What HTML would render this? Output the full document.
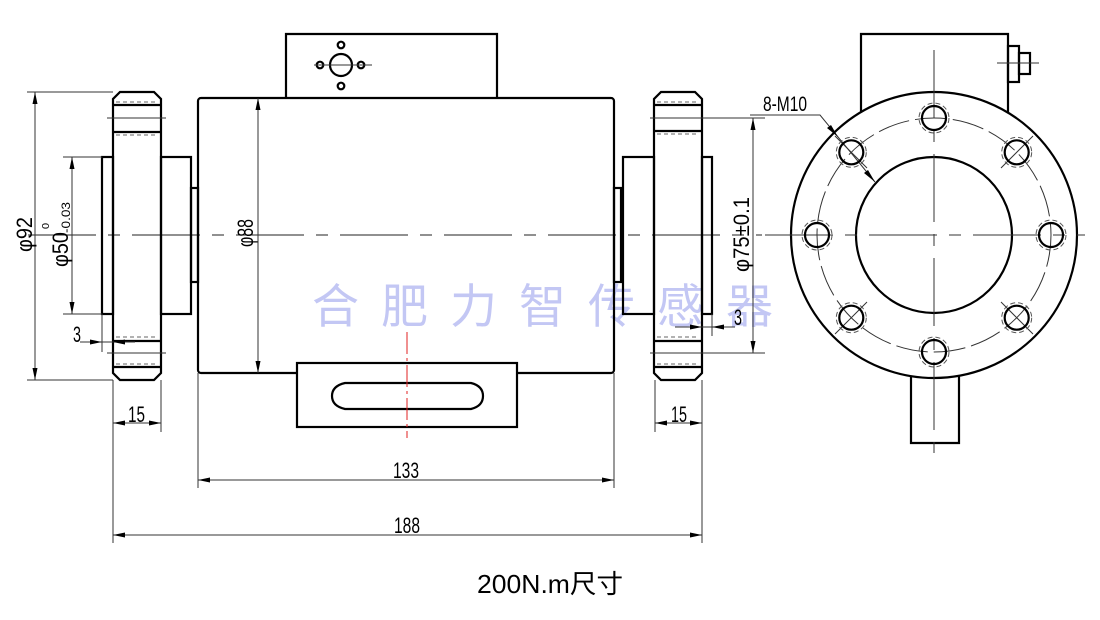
<!DOCTYPE html>
<html><head><meta charset="utf-8"><style>
html,body{margin:0;padding:0;background:#fff;}
svg{display:block;}
text{font-family:"Liberation Sans Narrow","Liberation Sans",sans-serif;fill:#000;}
</style></head><body>
<svg width="1100" height="620" viewBox="0 0 1100 620" xmlns="http://www.w3.org/2000/svg">
<rect width="1100" height="620" fill="#fff"/>

<!-- watermark -->
<text x="312" y="323" font-size="47" letter-spacing="22" style="font-family:'Noto Sans CJK SC','WenQuanYi Zen Hei',sans-serif;fill:#c3c7f4">合肥力智传感器</text>

<!-- centre line left view -->
<line x1="28" y1="235" x2="762" y2="235" stroke="#222" stroke-width="1" stroke-dasharray="68 12 12 12"/>

<g fill="none" stroke="#000" stroke-width="2.2">
  <!-- left flange -->
  <polygon points="120,92 154,92 161,99 161,373 154,380 120,380 113,373 113,99"/>
  <line x1="113" y1="105" x2="161" y2="105"/>
  <line x1="113" y1="132" x2="161" y2="132"/>
  <line x1="113" y1="341" x2="161" y2="341"/>
  <line x1="113" y1="367" x2="161" y2="367"/>
  <!-- left hubs -->
  <rect x="102" y="157" width="11" height="157"/>
  <rect x="161" y="157" width="30" height="157"/>
  <rect x="191" y="188" width="7" height="94"/>
  <!-- body -->
  <rect x="198" y="98" width="416" height="275" rx="3"/>
  <!-- top box -->
  <polyline points="286,98 286,34 497,34 497,98"/>
  <circle cx="341" cy="65" r="11"/>
  <circle cx="341" cy="45" r="3.3"/>
  <circle cx="341" cy="86" r="3.3"/>
  <circle cx="320" cy="65" r="3.3"/>
  <circle cx="361" cy="65" r="3.3"/>
  <!-- bottom box -->
  <rect x="297" y="363" width="220" height="64" fill="#fff"/>
  <path d="M345,383 L471,383 Q483,386 483,396 Q483,406 471,409 L345,409 Q332,406 332,396 Q332,386 345,383 Z"/>
  <!-- right hubs -->
  <rect x="614" y="188" width="7" height="94"/>
  <rect x="623" y="157" width="31" height="157"/>
  <rect x="702" y="157" width="10" height="157"/>
  <!-- right flange -->
  <polygon points="661,92 695,92 702,99 702,373 695,380 661,380 654,373 654,99"/>
  <line x1="654" y1="105" x2="702" y2="105"/>
  <line x1="654" y1="131" x2="702" y2="131"/>
  <line x1="654" y1="341" x2="702" y2="341"/>
  <line x1="654" y1="367" x2="702" y2="367"/>
</g>

<!-- thin lines in left view -->
<g fill="none" stroke="#333" stroke-width="1">
  <line x1="314" y1="65" x2="372" y2="65"/>
  <line x1="107" y1="118" x2="166" y2="118"/>
  <line x1="107" y1="353" x2="166" y2="353"/>
  <line x1="650" y1="118" x2="765" y2="118"/>
  <line x1="650" y1="353" x2="765" y2="353"/>
  <g stroke-dasharray="4 3" stroke="#666">
    <line x1="116" y1="102" x2="158" y2="102"/>
    <line x1="116" y1="135" x2="158" y2="135"/>
    <line x1="116" y1="337" x2="158" y2="337"/>
    <line x1="116" y1="364" x2="158" y2="364"/>
    <line x1="657" y1="102" x2="699" y2="102"/>
    <line x1="657" y1="134" x2="699" y2="134"/>
    <line x1="657" y1="337" x2="699" y2="337"/>
    <line x1="657" y1="364" x2="699" y2="364"/>
  </g>
  <!-- phi92 -->
  <line x1="27" y1="92" x2="113" y2="92"/>
  <line x1="27" y1="380" x2="113" y2="380"/>
  <line x1="35" y1="92" x2="35" y2="380"/>
  <!-- phi50 -->
  <line x1="63" y1="157" x2="102" y2="157"/>
  <line x1="63" y1="314" x2="102" y2="314"/>
  <line x1="72" y1="157" x2="72" y2="314"/>
  <!-- phi88 -->
  <line x1="258" y1="98" x2="258" y2="373"/>
  <!-- phi75 -->
  <line x1="753" y1="118" x2="753" y2="353"/>
  <!-- 3 left -->
  <line x1="102" y1="314" x2="102" y2="352"/>
  <line x1="80" y1="342" x2="135" y2="342"/>
  <!-- 3 right -->
  <line x1="712" y1="314" x2="712" y2="336"/>
  <line x1="675" y1="327" x2="735" y2="327"/>
  <!-- extension lines bottom -->
  <line x1="113" y1="380" x2="113" y2="543"/>
  <line x1="161" y1="380" x2="161" y2="432"/>
  <line x1="198" y1="373" x2="198" y2="488"/>
  <line x1="614" y1="373" x2="614" y2="488"/>
  <line x1="655" y1="380" x2="655" y2="432"/>
  <line x1="702" y1="380" x2="702" y2="543"/>
  <line x1="113" y1="423" x2="161" y2="423"/>
  <line x1="655" y1="423" x2="702" y2="423"/>
  <line x1="198" y1="480" x2="614" y2="480"/>
  <line x1="113" y1="535" x2="702" y2="535"/>
</g>

<!-- red centre line -->
<line x1="407" y1="332" x2="407" y2="438" stroke="#e02020" stroke-width="1" stroke-dasharray="22 4 3 4"/>

<!-- arrowheads -->
<g fill="#000" stroke="none">
  <polygon points="35,92 32.5,104 37.5,104"/>
  <polygon points="35,380 32.5,368 37.5,368"/>
  <polygon points="72,157 69.5,169 74.5,169"/>
  <polygon points="72,314 69.5,302 74.5,302"/>
  <polygon points="258,98 255.5,110 260.5,110"/>
  <polygon points="258,373 255.5,361 260.5,361"/>
  <polygon points="753,118 750.5,130 755.5,130"/>
  <polygon points="753,353 750.5,341 755.5,341"/>
  <polygon points="113,423 125,420.5 125,425.5"/>
  <polygon points="161,423 149,420.5 149,425.5"/>
  <polygon points="655,423 667,420.5 667,425.5"/>
  <polygon points="702,423 690,420.5 690,425.5"/>
  <polygon points="198,480 210,477.5 210,482.5"/>
  <polygon points="614,480 602,477.5 602,482.5"/>
  <polygon points="113,535 125,532.5 125,537.5"/>
  <polygon points="702,535 690,532.5 690,537.5"/>
  <polygon points="102,342 90,339.5 90,344.5"/>
  <polygon points="113,342 125,339.5 125,344.5"/>
  <polygon points="702,327 690,324.5 690,329.5"/>
  <polygon points="712,327 724,324.5 724,329.5"/>
</g>

<!-- dimension texts -->
<g font-size="22">
  <text transform="translate(32,252) rotate(-90)" textLength="35" lengthAdjust="spacingAndGlyphs">φ92</text>
  <text transform="translate(68,267) rotate(-90)" textLength="35" lengthAdjust="spacingAndGlyphs">φ50</text>
  <text transform="translate(49,229) rotate(-90)" font-size="10" textLength="6" lengthAdjust="spacingAndGlyphs">0</text>
  <text transform="translate(70,233) rotate(-90)" font-size="12" textLength="31" lengthAdjust="spacingAndGlyphs">-0.03</text>
  <text transform="translate(253,247) rotate(-90)" textLength="28" lengthAdjust="spacingAndGlyphs">φ88</text>
  <text transform="translate(749,272) rotate(-90)" textLength="75" lengthAdjust="spacingAndGlyphs">φ75±0.1</text>
  <text x="73" y="342" textLength="8" lengthAdjust="spacingAndGlyphs">3</text>
  <text x="734" y="325" textLength="8" lengthAdjust="spacingAndGlyphs">3</text>
  <text x="128" y="422" textLength="17" lengthAdjust="spacingAndGlyphs">15</text>
  <text x="671" y="422" textLength="16" lengthAdjust="spacingAndGlyphs">15</text>
  <text x="393" y="478" textLength="26" lengthAdjust="spacingAndGlyphs">133</text>
  <text x="394" y="533" textLength="26" lengthAdjust="spacingAndGlyphs">188</text>
  <text x="763" y="111" font-size="21" textLength="44" lengthAdjust="spacingAndGlyphs">8-M10</text>
</g>

<!-- title -->
<text x="477" y="593" font-size="26" textLength="146" lengthAdjust="spacingAndGlyphs" style="font-family:'Liberation Sans','Noto Sans CJK SC',sans-serif">200N.m尺寸</text>

<!-- right view -->
<g fill="none" stroke="#000" stroke-width="2.2">
  <polyline points="861,112 861,34 1008,34 1008,113"/>
  <rect x="1008" y="46" width="11" height="36"/>
  <rect x="1019" y="53" width="11" height="21"/>
  <polyline points="911,376 911,443 959,443 959,376"/>
  <circle cx="934" cy="235" r="143" fill="#fff"/>
  <circle cx="934" cy="235" r="78"/>
</g>
<g fill="none" stroke="#333" stroke-width="1">
  <line x1="997" y1="63" x2="1039" y2="63"/>
  <circle cx="934" cy="235" r="117" stroke-dasharray="32 6"/>
  <line x1="934" y1="50" x2="934" y2="453" stroke-dasharray="68 12 12 12"/>
  <line x1="765" y1="235" x2="1085" y2="235" stroke-dasharray="68 12 12 12"/>
  <line x1="835" y1="136" x2="867" y2="168"/>
  <line x1="1033" y1="136" x2="1001" y2="168"/>
  <line x1="835" y1="334" x2="867" y2="302"/>
  <line x1="1033" y1="334" x2="1001" y2="302"/>
  <!-- leader -->
  <polyline points="750,115 820,115 875,182"/>
</g>
<g fill="none">
  <g stroke="#000" stroke-width="2.2">
    <circle cx="934" cy="118" r="12"/>
    <circle cx="1016.7" cy="152.3" r="12"/>
    <circle cx="1051" cy="235" r="12"/>
    <circle cx="1016.7" cy="317.7" r="12"/>
    <circle cx="934" cy="352" r="12"/>
    <circle cx="851.3" cy="317.7" r="12"/>
    <circle cx="817" cy="235" r="12"/>
    <circle cx="851.3" cy="152.3" r="12"/>
  </g>
  <g stroke="#555" stroke-width="1" stroke-dasharray="5 3">
    <circle cx="934" cy="118" r="15"/>
    <circle cx="1016.7" cy="152.3" r="15"/>
    <circle cx="1051" cy="235" r="15"/>
    <circle cx="1016.7" cy="317.7" r="15"/>
    <circle cx="934" cy="352" r="15"/>
    <circle cx="851.3" cy="317.7" r="15"/>
    <circle cx="817" cy="235" r="15"/>
    <circle cx="851.3" cy="152.3" r="15"/>
  </g>
</g>
<g fill="#000">
  <polygon points="838,137 827,128 831,125"/>
  <polygon points="875,182 864,173 868,170"/>
</g>
</svg>
</body></html>
